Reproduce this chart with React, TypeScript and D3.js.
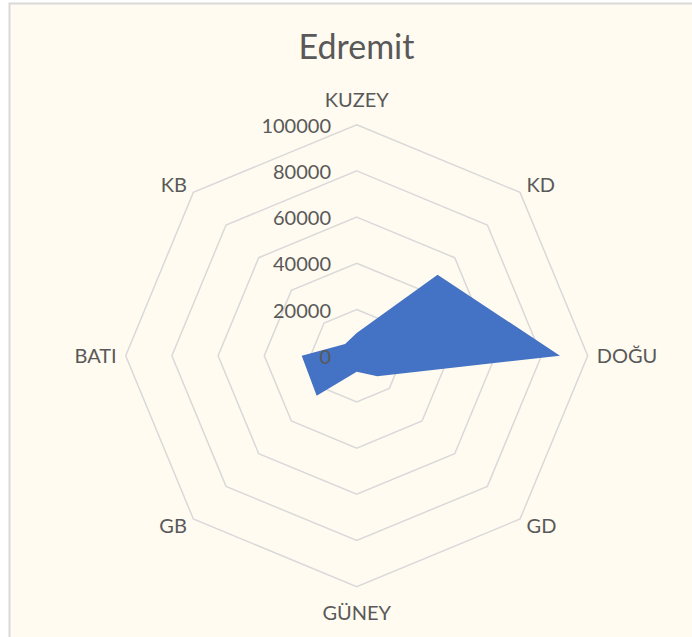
import React from 'react';
import * as d3 from 'd3';

const categories = ['KUZEY', 'KD', 'DOĞU', 'GD', 'GÜNEY', 'GB', 'BATI', 'KB'];
const values = [9800, 49500, 88000, 12600, 7000, 24500, 23800, 7100];
const ticks = [0, 20000, 40000, 60000, 80000, 100000];

const W = 692;
const H = 637;
const cx = 356.7;
const cy = 355.7;
const R = 231;
const font = 'Lato, "Open Sans", sans-serif';
const textColor = '#595959';

const App = () => {
  const r = d3.scaleLinear().domain([0, 100000]).range([0, R]);
  const step = (2 * Math.PI) / categories.length;
  const pt = (i: number, v: number): [number, number] => {
    const a = i * step;
    return [cx + r(v) * Math.sin(a), cy - r(v) * Math.cos(a)];
  };

  const ring = (v: number) =>
    d3.line()(categories.map((_, i) => pt(i, v))) + 'Z';

  const area = d3.line()(values.map((v, i) => pt(i, v))) + 'Z';

  // label placement around the outer ring
  const labelProps = (i: number) => {
    const a = i * step;
    const s = Math.sin(a);
    const c = Math.cos(a);
    const [x, y] = pt(i, 100000);
    let anchor = 'middle';
    let dx = 0;
    if (s > 0.1) { anchor = 'start'; dx = s > 0.9 ? 9 : 6.5; }
    if (s < -0.1) { anchor = 'end'; dx = s < -0.9 ? -9 : -6.5; }
    let by = y;
    if (c > 0.9) by = y - 18;
    else if (c > 0.1) by = y;
    else if (c > -0.1) by = y + 7;
    else if (c > -0.9) by = y + 14;
    else by = y + 33;
    return { x: x + dx, y: by, anchor };
  };

  return (
    <svg width={W} height={H} style={{ position: 'absolute', left: 0, top: 0, display: 'block' }}>
      <rect x={0} y={0} width={W} height={H} fill="#ffffff" />
      <rect x={9.5} y={3.5} width={W + 20} height={H + 20} fill="#FFFBF0" stroke="#D9D9D9" strokeWidth={2} />
      <text x={356.5} y={59} textAnchor="middle" fontFamily={font} fontSize={34} fill={textColor}>
        Edremit
      </text>
      <g fill="none" stroke="#D9D9D9" strokeWidth={1.5}>
        {ticks.slice(1).map(t => (
          <path key={t} d={ring(t)} />
        ))}
      </g>
      <path d={area} fill="#4472C4" />
      <g fontFamily={font} fontSize={20} fill={textColor}>
        {ticks.map(t => (
          <text key={t} x={331} y={cy - r(t)} textAnchor="end" dominantBaseline="central">
            {t}
          </text>
        ))}
        {categories.map((c, i) => {
          const p = labelProps(i);
          return (
            <text key={c} x={p.x} y={p.y} textAnchor={p.anchor}>
              {c}
            </text>
          );
        })}
      </g>
    </svg>
  );
};

export default App;
